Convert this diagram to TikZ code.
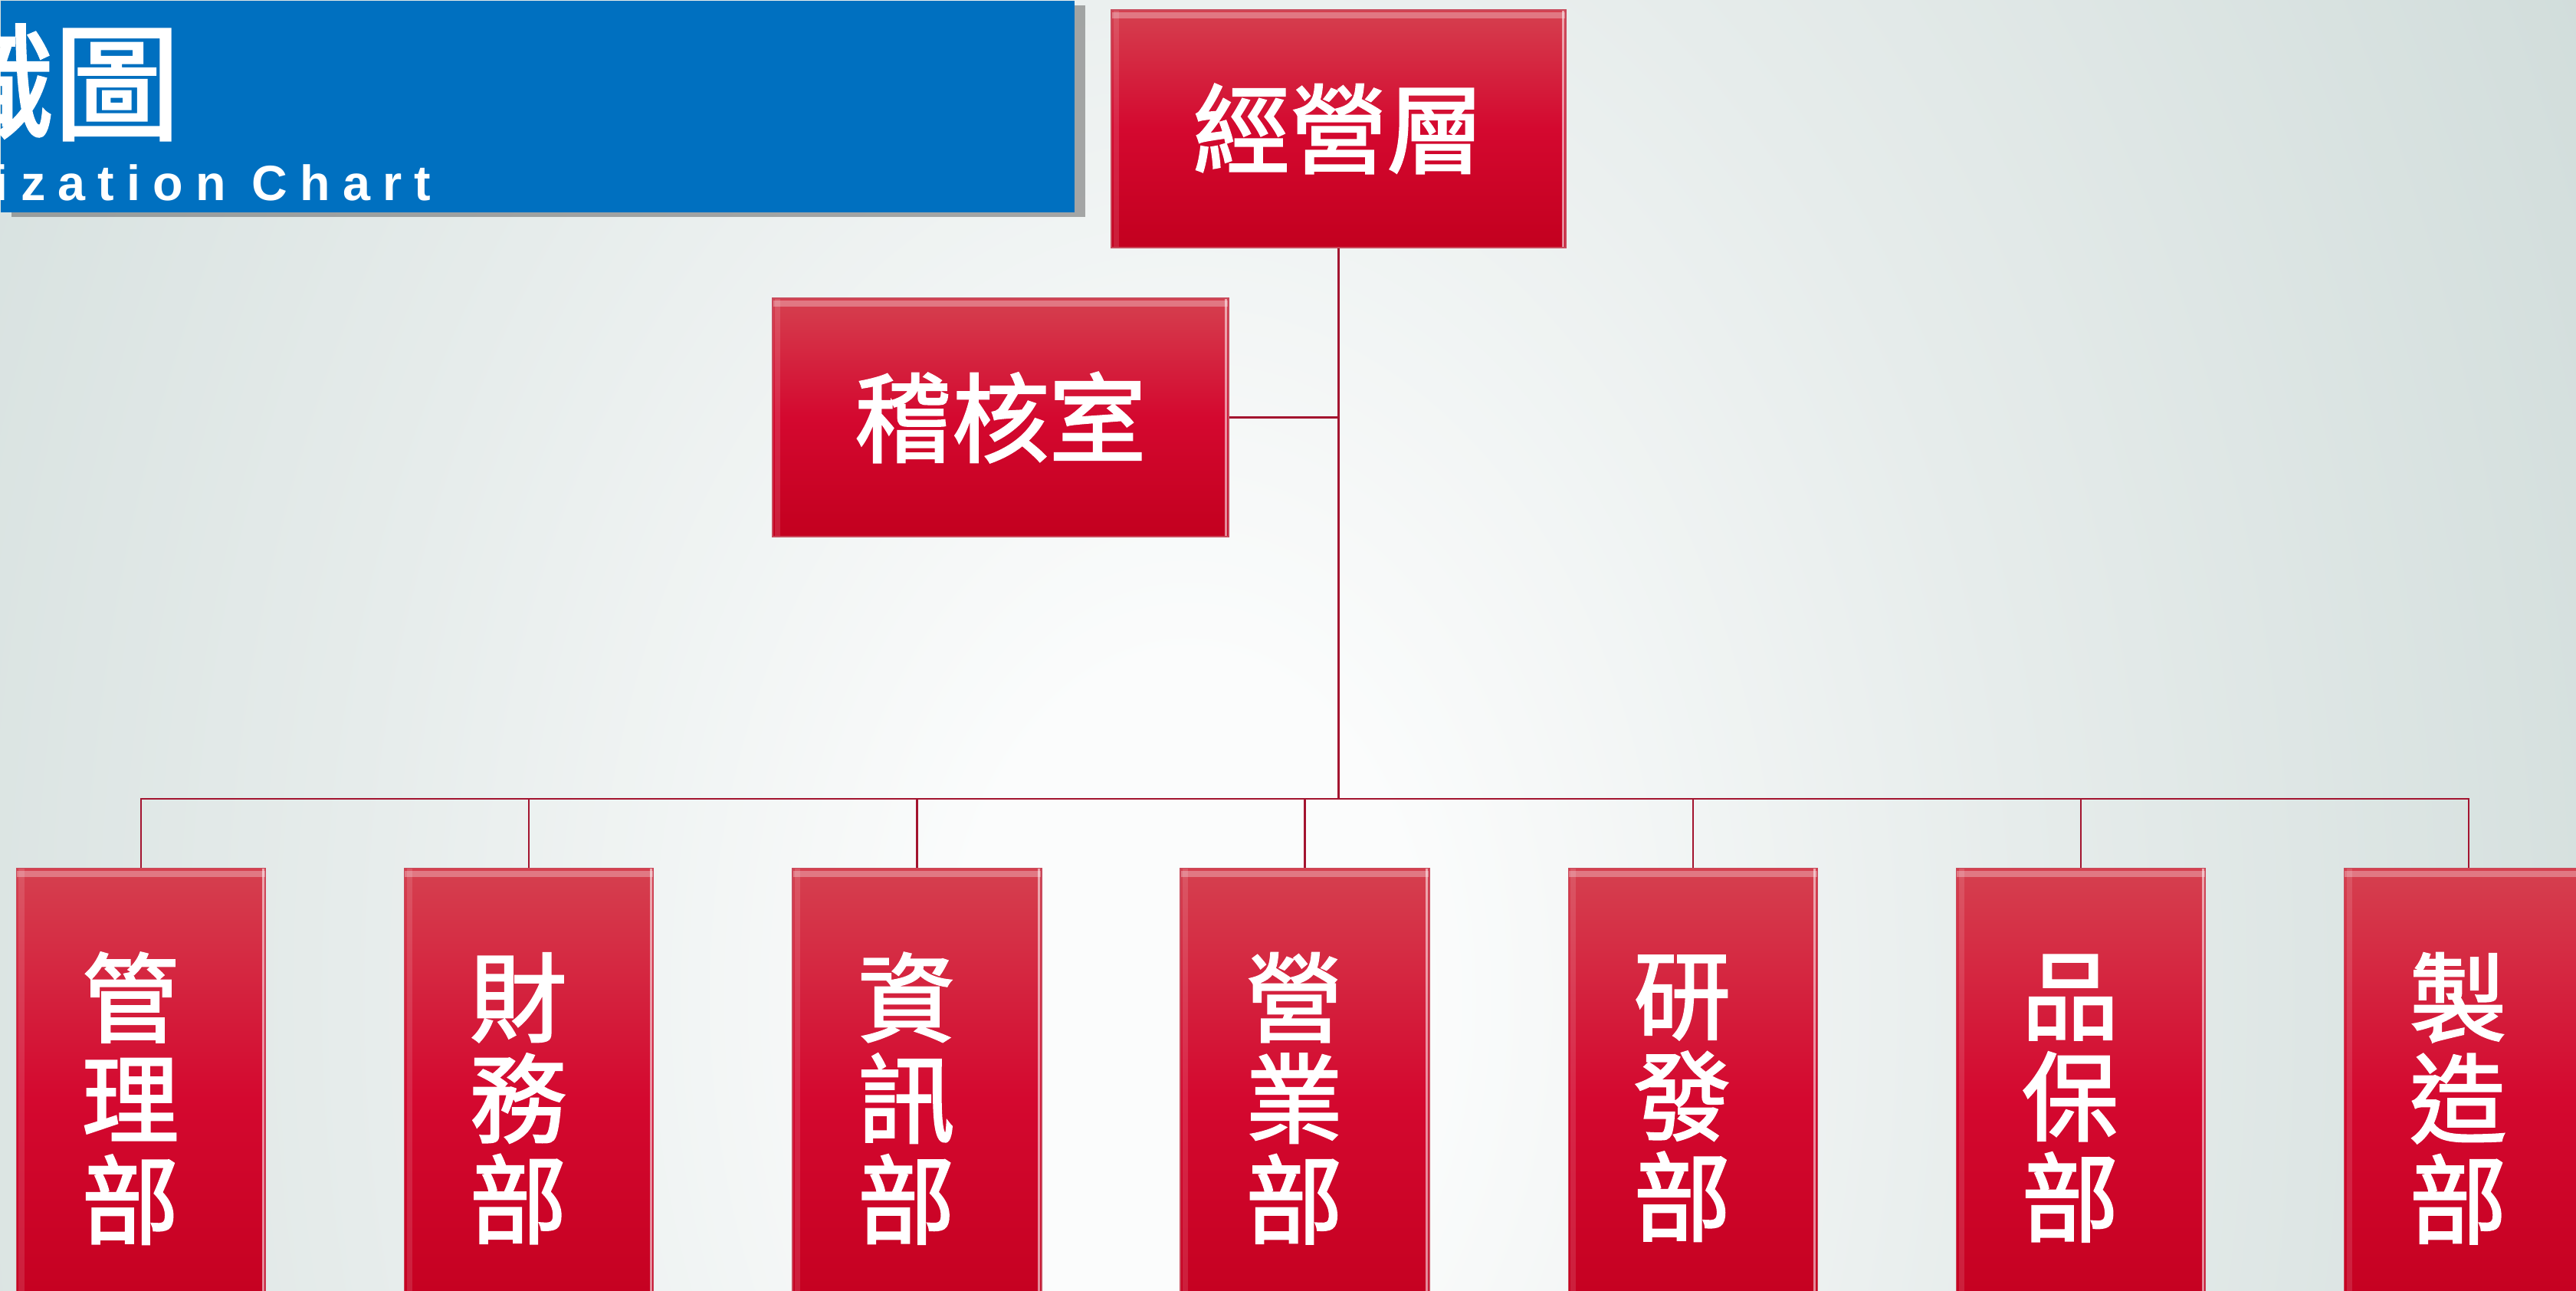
\documentclass[tikz,border=0pt]{standalone}
\usepackage{fontspec}
\setmainfont{Liberation Sans}
\newfontfamily\cjk[FakeBold=2]{Noto Sans CJK TC}
\newfontfamily\spaced[LetterSpace=25]{Liberation Sans}
\usetikzlibrary{calc,shadows}
\definecolor{bglight}{HTML}{FBFCFC}
\definecolor{bgmid}{HTML}{E6ECEB}
\definecolor{bgdeep}{HTML}{D0DCDA}
\definecolor{bgdark}{HTML}{BBCDCA}
\definecolor{titleblue}{HTML}{0070C0}
\definecolor{boxtop}{HTML}{D5404F}
\definecolor{boxmid}{HTML}{D4082F}
\definecolor{boxbot}{HTML}{C3001F}
\definecolor{boxedge}{HTML}{C84A5C}
\definecolor{linkred}{HTML}{A3142F}
\pgfdeclareradialshading{backdrop}{\pgfpoint{0bp}{0bp}}{color(0bp)=(bglight); color(3bp)=(bglight); color(11bp)=(bgmid); color(21bp)=(bgdeep); color(31bp)=(bgdark); color(75bp)=(bgdark)}
\tikzset{
    bevel/.style={path picture={
        \fill[white,opacity=.3] ([yshift=-0.03cm]path picture bounding box.north west) rectangle ([yshift=-0.11cm]path picture bounding box.north east);
        \fill[white,opacity=.12] ([xshift=0.03cm]path picture bounding box.north west) rectangle ([xshift=0.1cm]path picture bounding box.south west);
        \fill[white,opacity=.55] ([xshift=-0.02cm]path picture bounding box.north east) rectangle ([xshift=-0.05cm]path picture bounding box.south east);
    }},
    unit/.style={draw=boxedge, line width=0.4pt, top color=boxtop, bottom color=boxbot, middle color=boxmid,
        text=white, font=\cjk\fontsize{36}{37.5}\selectfont, inner sep=0pt, bevel},
    deptlabel/.style={text=white, font=\cjk\fontsize{36}{37.5}\selectfont, align=center, inner sep=0pt},
    titlebox/.style={fill=titleblue, inner sep=0pt, drop shadow={shadow xshift=0.14cm, shadow yshift=-0.06cm, fill=black!60, opacity=0.55}},
    link/.style={draw=linkred, line width=0.7pt},
    trunk/.style={draw=linkred, line width=1.1pt}
}
\begin{document}
\begin{tikzpicture}
    \useasboundingbox (0,0) rectangle (33.61,-16.83);
    \clip (0,0) rectangle (33.61,-16.83);
    \shade[shading=backdrop] (-9.5,23) rectangle (40.5,-49);
    \node[titlebox, minimum width=14.01cm, minimum height=2.76cm, anchor=north west] (title) at (0,0) {};
    \node[anchor=base east, inner sep=0pt, text=white, font=\cjk\fontsize{47}{47}\selectfont] (titlecn) at (2.36,-1.70) {組織圖};
    \node[anchor=base east, inner sep=0pt, text=white, font=\spaced\bfseries\fontsize{18.4}{18.4}\selectfont] (titleen) at (5.63,-2.61) {Organization Chart};
    \node[unit, minimum width=5.93cm, minimum height=3.10cm] (top) at (17.465,-1.68) {經營層};
    \node[unit, minimum width=5.95cm, minimum height=3.11cm] (audit) at (13.055,-5.445) {稽核室};
    \coordinate (busy) at (0,-10.42);
    \coordinate (bus) at (top.south |- busy);
    \draw[trunk] (top.south) -- (bus);
    \draw[link] (audit.east) -- (audit.east -| bus);
    \foreach \lbl [count=\i] in {{管\\理\\部},{財\\務\\部},{資\\訊\\部},{營\\業\\部},{研\\發\\部},{品\\保\\部},{製\\造\\部}} {
        \node[unit, minimum width=3.25cm, minimum height=6cm, anchor=north] (d\i) at ({1.84+5.062*(\i-1)},-11.32) {};
        \node[deptlabel] (dl\i) at ([xshift=-0.14cm]d\i.center) {\lbl};
        \draw[link] (d\i.north) |- (bus);
    }
\end{tikzpicture}
\end{document}
